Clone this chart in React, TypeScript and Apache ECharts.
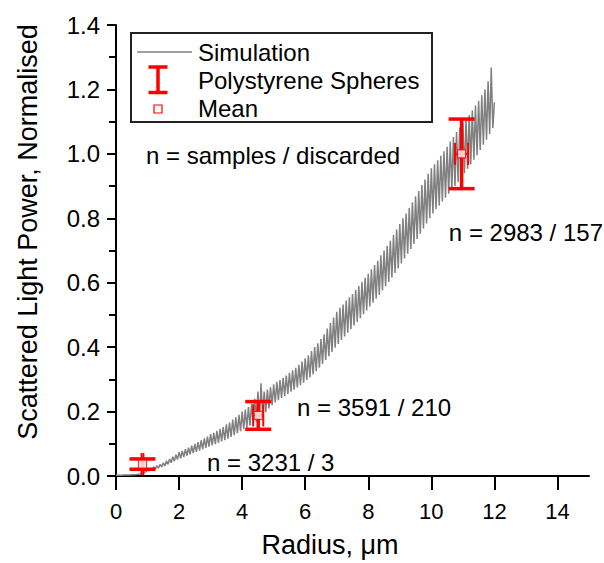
import React, { useEffect, useRef } from "react";
import * as echarts from "echarts";

// ---- Data ----
// Simulation curve: sampled every 0.05 µm starting at 0 µm
const SIM_X_START = 0;
const SIM_X_STEP = 0.05;
const simY = [
  0.002, 0.002, 0.002, 0.002, 0.002, 0.003, 0.003, 0.003, 0.003, 0.003,
  0.004, 0.004, 0.004, 0.005, 0.005, 0.006, 0.008, 0.009, 0.012, 0.013,
  0.02, 0.016, 0.024, 0.019, 0.028, 0.022, 0.032, 0.025, 0.036, 0.028,
  0.041, 0.031, 0.047, 0.036, 0.053, 0.041, 0.06, 0.046, 0.066, 0.051,
  0.074, 0.055, 0.078, 0.059, 0.083, 0.063, 0.088, 0.067, 0.094, 0.071,
  0.1, 0.075, 0.105, 0.079, 0.111, 0.083, 0.117, 0.087, 0.122, 0.091,
  0.13, 0.095, 0.134, 0.099, 0.14, 0.103, 0.146, 0.107, 0.152, 0.111,
  0.16, 0.116, 0.166, 0.121, 0.175, 0.127, 0.182, 0.133, 0.19, 0.139,
  0.2, 0.145, 0.206, 0.15, 0.214, 0.156, 0.225, 0.162, 0.24, 0.168,
  0.262, 0.175, 0.288, 0.185, 0.262, 0.198, 0.268, 0.21, 0.275, 0.22,
  0.285, 0.228, 0.292, 0.235, 0.298, 0.242, 0.305, 0.248, 0.312, 0.255,
  0.32, 0.262, 0.328, 0.268, 0.336, 0.275, 0.345, 0.282, 0.355, 0.29,
  0.365, 0.298, 0.375, 0.306, 0.388, 0.315, 0.4, 0.325, 0.412, 0.336,
  0.425, 0.348, 0.44, 0.36, 0.458, 0.372, 0.475, 0.385, 0.492, 0.398,
  0.51, 0.41, 0.522, 0.422, 0.532, 0.433, 0.545, 0.445, 0.555, 0.456,
  0.565, 0.467, 0.578, 0.478, 0.59, 0.49, 0.602, 0.502, 0.615, 0.514,
  0.628, 0.526, 0.642, 0.538, 0.655, 0.55, 0.668, 0.563, 0.685, 0.576,
  0.7, 0.589, 0.714, 0.602, 0.73, 0.616, 0.748, 0.63, 0.765, 0.644,
  0.782, 0.66, 0.8, 0.675, 0.815, 0.69, 0.832, 0.705, 0.85, 0.72,
  0.868, 0.736, 0.885, 0.752, 0.903, 0.768, 0.92, 0.784, 0.938, 0.8,
  0.955, 0.815, 0.968, 0.828, 0.98, 0.84, 0.994, 0.852, 1.008, 0.864,
  1.022, 0.876, 1.038, 0.888, 1.052, 0.9, 1.068, 0.913, 1.082, 0.926,
  1.095, 0.94, 1.108, 0.954, 1.12, 0.968, 1.135, 0.982, 1.15, 0.996,
  1.165, 1.012, 1.182, 1.028, 1.2, 1.044, 1.225, 1.062, 1.268, 1.08,
  1.16,
];

// Polystyrene spheres measurements
const sphereX = [0.84, 4.51, 10.96];
const sphereMeanY = [0.037, 0.188, 1.0];
const sphereErrY = [0.016, 0.043, 0.108];
const sphereErrX = [0.03, 0.16, 0.21];

// Axis ticks
const xTicks = [0, 2, 4, 6, 8, 10, 12, 14];
const yMin = 0;
const yMax = 1.4;
const yInterval = 0.2;

// Texts
const legendLabels = ["Simulation", "Polystyrene Spheres", "Mean"];
const annotations = [
  "n = samples / discarded",
  "n = 2983 / 157",
  "n = 3591 / 210",
  "n = 3231 / 3",
];
const xTitle = "Radius, \u03bcm";
const yTitle = "Scattered Light Power, Normalised";

const FONT = 'Arial, "Liberation Sans", sans-serif';
const RED = "#ff0000";
const GREY = "#808080";

export default function App() {
  const ref = useRef<HTMLDivElement | null>(null);

  useEffect(() => {
    if (!ref.current) return;
    const chart = echarts.init(ref.current, null, { renderer: "svg" });

    const simData = simY.map((y, i) => [SIM_X_START + i * SIM_X_STEP, y]);
    const errData = sphereX.map((x, i) => [x, sphereMeanY[i], sphereErrX[i], sphereErrY[i]]);
    const meanData = sphereX.map((x, i) => [x, sphereMeanY[i]]);

    const textStyleBase = { fontFamily: FONT, fill: "#000" };

    chart.setOption({
      animation: false,
      backgroundColor: "#fff",
      grid: { left: 116, right: 15, top: 25, bottom: 87, containLabel: false },
      xAxis: {
        type: "value",
        min: 0,
        max: 15,
        interval: 2,
        axisLine: { show: true, lineStyle: { color: "#000", width: 2 } },
        axisTick: {
          show: true,
          inside: false,
          length: 14,
          lineStyle: { color: "#000", width: 2 },
          customValues: xTicks,
        },
        axisLabel: {
          show: true,
          margin: 24,
          fontSize: 22,
          fontFamily: FONT,
          color: "#000",
          customValues: xTicks,
        },
        splitLine: { show: false },
      },
      yAxis: {
        type: "value",
        min: yMin,
        max: yMax,
        interval: yInterval,
        axisLine: { show: true, lineStyle: { color: "#000", width: 2 } },
        axisTick: {
          show: true,
          inside: false,
          length: 9,
          lineStyle: { color: "#000", width: 2 },
        },
        minorTick: {
          show: true,
          splitNumber: 2,
          length: 7,
          lineStyle: { color: "#000", width: 2 },
        },
        axisLabel: {
          show: true,
          margin: 16,
          fontSize: 24,
          fontFamily: FONT,
          color: "#000",
          formatter: (v: number) => v.toFixed(1),
        },
        splitLine: { show: false },
      },
      series: [
        {
          name: "Simulation",
          type: "line",
          data: simData,
          showSymbol: false,
          symbol: "none",
          lineStyle: { color: GREY, width: 1.5 },
          z: 2,
        },
        {
          name: "Polystyrene Spheres",
          type: "custom",
          data: errData,
          z: 3,
          renderItem: (params: any, api: any) => {
            const x = api.value(0);
            const y = api.value(1);
            const ex = api.value(2);
            const ey = api.value(3);
            const c = api.coord([x, y]);
            const top = api.coord([x, y + ey]);
            const bot = api.coord([x, y - ey]);
            const left = api.coord([x - ex, y]);
            const right = api.coord([x + ex, y]);
            const capW = 13;
            const capH = 11;
            const thick = { stroke: RED, lineWidth: 3.5 };
            const thin = { stroke: RED, lineWidth: 2 };
            return {
              type: "group",
              children: [
                { type: "line", shape: { x1: c[0], y1: top[1], x2: c[0], y2: bot[1] }, style: thick },
                { type: "line", shape: { x1: c[0] - capW, y1: top[1], x2: c[0] + capW, y2: top[1] }, style: thick },
                { type: "line", shape: { x1: c[0] - capW, y1: bot[1], x2: c[0] + capW, y2: bot[1] }, style: thick },
                { type: "line", shape: { x1: left[0], y1: c[1], x2: right[0], y2: c[1] }, style: thin },
                { type: "line", shape: { x1: left[0], y1: c[1] - capH, x2: left[0], y2: c[1] + capH }, style: thin },
                { type: "line", shape: { x1: right[0], y1: c[1] - capH, x2: right[0], y2: c[1] + capH }, style: thin },
              ],
            };
          },
        },
        {
          name: "Mean",
          type: "scatter",
          data: meanData,
          symbol: "rect",
          symbolSize: 8,
          itemStyle: { color: "#fff", borderColor: RED, borderWidth: 1.2 },
          z: 4,
        },
      ],
      graphic: [
        // legend box
        {
          type: "rect",
          shape: { x: 131, y: 33, width: 301, height: 89 },
          style: { fill: "#fff", stroke: "#222", lineWidth: 2 },
          z: 10,
        },
        {
          type: "line",
          shape: { x1: 137, y1: 52, x2: 192, y2: 52 },
          style: { stroke: GREY, lineWidth: 1.5 },
          z: 11,
        },
        {
          type: "line",
          shape: { x1: 158, y1: 67, x2: 158, y2: 92.5 },
          style: { stroke: RED, lineWidth: 3.5 },
          z: 11,
        },
        {
          type: "line",
          shape: { x1: 148.5, y1: 67, x2: 167.5, y2: 67 },
          style: { stroke: RED, lineWidth: 3.5 },
          z: 11,
        },
        {
          type: "line",
          shape: { x1: 148.5, y1: 92.5, x2: 167.5, y2: 92.5 },
          style: { stroke: RED, lineWidth: 3.5 },
          z: 11,
        },
        {
          type: "rect",
          shape: { x: 154, y: 105, width: 8, height: 8 },
          style: { fill: "#fff", stroke: RED, lineWidth: 1.2 },
          z: 11,
        },
        {
          type: "text",
          x: 198,
          y: 52,
          style: { ...textStyleBase, text: legendLabels[0], fontSize: 24, verticalAlign: "middle" },
          z: 11,
        },
        {
          type: "text",
          x: 198,
          y: 80,
          style: { ...textStyleBase, text: legendLabels[1], fontSize: 24, verticalAlign: "middle" },
          z: 11,
        },
        {
          type: "text",
          x: 198,
          y: 108,
          style: { ...textStyleBase, text: legendLabels[2], fontSize: 24, verticalAlign: "middle" },
          z: 11,
        },
        // annotations
        {
          type: "text",
          x: 146,
          y: 155,
          style: { ...textStyleBase, text: annotations[0], fontSize: 24, verticalAlign: "middle" },
          z: 11,
        },
        {
          type: "text",
          x: 603,
          y: 232,
          style: { ...textStyleBase, text: annotations[1], fontSize: 24, verticalAlign: "middle", align: "right" },
          z: 11,
        },
        {
          type: "text",
          x: 297,
          y: 407,
          style: { ...textStyleBase, text: annotations[2], fontSize: 24, verticalAlign: "middle" },
          z: 11,
        },
        {
          type: "text",
          x: 207,
          y: 462,
          style: { ...textStyleBase, text: annotations[3], fontSize: 24, verticalAlign: "middle" },
          z: 11,
        },
        // axis titles
        {
          type: "text",
          x: 330,
          y: 545,
          style: { ...textStyleBase, text: xTitle, fontSize: 27, align: "center", verticalAlign: "middle" },
          z: 11,
        },
        {
          type: "text",
          x: 28,
          y: 232,
          rotation: Math.PI / 2,
          style: { ...textStyleBase, text: yTitle, fontSize: 27, align: "center", verticalAlign: "middle" },
          z: 11,
        },
      ],
    });

    return () => {
      chart.dispose();
    };
  }, []);

  return (
    <div
      ref={ref}
      style={{ position: "absolute", left: 0, top: 0, width: 604, height: 563 }}
    />
  );
}
